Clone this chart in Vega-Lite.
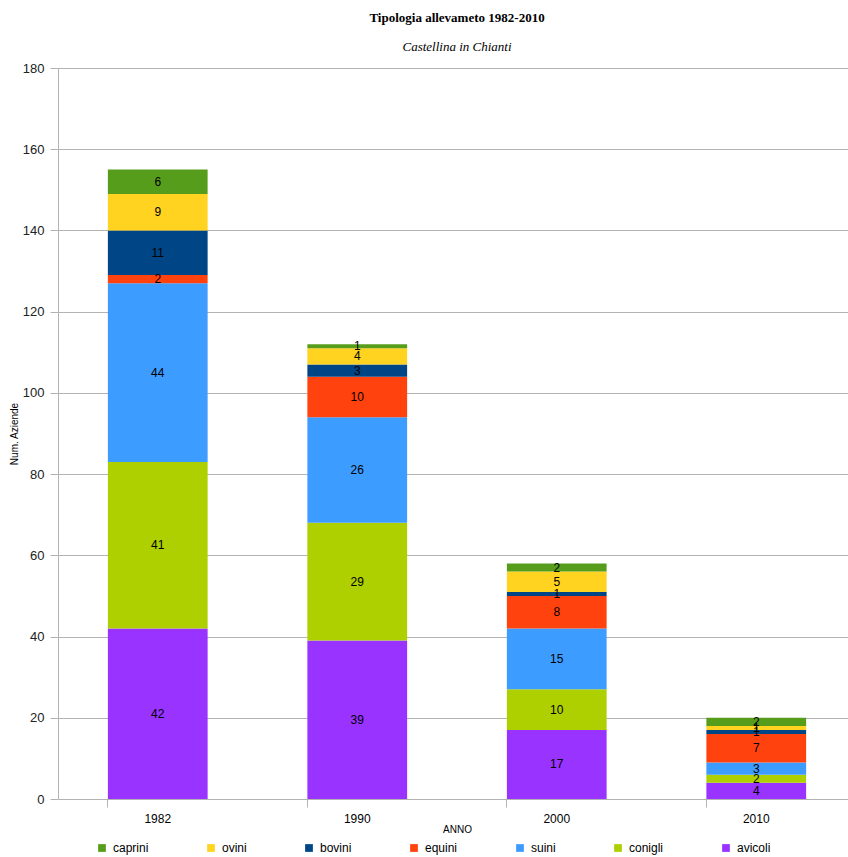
{
  "$schema": "https://vega.github.io/schema/vega-lite/v6.json",
  "autosize": {"type": "none"},
  "padding": {"left": 58, "top": 68, "right": 0, "bottom": 58},
  "width": 798,
  "height": 731,
  "background": "white",
  "title": {
    "text": "Tipologia allevameto 1982-2010",
    "subtitle": "Castellina in Chianti",
    "font": "Liberation Serif",
    "fontSize": 13,
    "fontWeight": "bold",
    "color": "#000000",
    "subtitleFont": "Liberation Serif",
    "subtitleFontSize": 13,
    "subtitleFontStyle": "italic",
    "subtitleColor": "#000000",
    "subtitlePadding": 16,
    "anchor": "middle",
    "offset": 8
  },
  "data": {
    "values": [
      {"anno": "1982", "tipo": "avicoli", "n": 42},
      {"anno": "1982", "tipo": "conigli", "n": 41},
      {"anno": "1982", "tipo": "suini", "n": 44},
      {"anno": "1982", "tipo": "equini", "n": 2},
      {"anno": "1982", "tipo": "bovini", "n": 11},
      {"anno": "1982", "tipo": "ovini", "n": 9},
      {"anno": "1982", "tipo": "caprini", "n": 6},
      {"anno": "1990", "tipo": "avicoli", "n": 39},
      {"anno": "1990", "tipo": "conigli", "n": 29},
      {"anno": "1990", "tipo": "suini", "n": 26},
      {"anno": "1990", "tipo": "equini", "n": 10},
      {"anno": "1990", "tipo": "bovini", "n": 3},
      {"anno": "1990", "tipo": "ovini", "n": 4},
      {"anno": "1990", "tipo": "caprini", "n": 1},
      {"anno": "2000", "tipo": "avicoli", "n": 17},
      {"anno": "2000", "tipo": "conigli", "n": 10},
      {"anno": "2000", "tipo": "suini", "n": 15},
      {"anno": "2000", "tipo": "equini", "n": 8},
      {"anno": "2000", "tipo": "bovini", "n": 1},
      {"anno": "2000", "tipo": "ovini", "n": 5},
      {"anno": "2000", "tipo": "caprini", "n": 2},
      {"anno": "2010", "tipo": "avicoli", "n": 4},
      {"anno": "2010", "tipo": "conigli", "n": 2},
      {"anno": "2010", "tipo": "suini", "n": 3},
      {"anno": "2010", "tipo": "equini", "n": 7},
      {"anno": "2010", "tipo": "bovini", "n": 1},
      {"anno": "2010", "tipo": "ovini", "n": 1},
      {"anno": "2010", "tipo": "caprini", "n": 2}
    ]
  },
  "transform": [
    {"calculate": "indexof(['avicoli','conigli','suini','equini','bovini','ovini','caprini'], datum.tipo)", "as": "rank"},
    {"stack": "n", "groupby": ["anno"], "sort": [{"field": "rank", "order": "ascending"}], "as": ["y0", "y1"]},
    {"calculate": "(datum.y0 + datum.y1) / 2", "as": "ymid"}
  ],
  "layer": [
    {
      "mark": {"type": "bar"},
      "encoding": {
        "x": {
          "field": "anno",
          "type": "nominal",
          "scale": {"paddingInner": 0.5, "paddingOuter": 0.25},
          "axis": {
            "orient": "bottom",
            "title": "ANNO",
            "labelAngle": 0,
            "labelFont": "Liberation Sans",
            "labelFontSize": 12,
            "labelFontWeight": "normal",
            "labelColor": "#000000",
            "labelPadding": 14,
            "ticks": false,
            "domain": false,
            "titleFont": "Liberation Sans",
            "titleFontSize": 10,
            "titleFontWeight": "normal",
            "titleColor": "#000000",
            "titlePadding": 0
          }
        },
        "y": {
          "field": "y0",
          "type": "quantitative",
          "scale": {"domain": [0, 180]},
          "axis": {
            "title": "Num. Aziende",
            "titleFont": "Liberation Sans",
            "titleFontSize": 10,
            "titleFontWeight": "normal",
            "titleColor": "#000000",
            "titlePadding": 3,
            "values": [0, 20, 40, 60, 80, 100, 120, 140, 160, 180],
            "labelFont": "Liberation Sans",
            "labelFontSize": 13,
            "labelColor": "#222222",
            "labelPadding": 6,
            "tickSize": 8,
            "tickColor": "#b3b3b3",
            "domainColor": "#b3b3b3",
            "gridColor": "#b3b3b3",
            "grid": true
          }
        },
        "y2": {"field": "y1"},
        "color": {
          "field": "tipo",
          "type": "nominal",
          "scale": {
            "domain": ["caprini", "ovini", "bovini", "equini", "suini", "conigli", "avicoli"],
            "range": ["#579d1c", "#ffd320", "#004586", "#ff420e", "#3d9cff", "#aecf00", "#9933ff"]
          },
          "legend": {
            "title": null,
            "orient": "none",
            "direction": "horizontal",
            "columns": 7,
            "legendX": 38,
            "legendY": 774,
            "symbolType": "square",
            "symbolSize": 60,
            "symbolStrokeWidth": 0,
            "labelFont": "Liberation Sans",
            "labelFontSize": 12,
            "labelColor": "#000000",
            "labelOffset": 5,
            "columnPadding": 56
          }
        }
      }
    },
    {
      "mark": {"type": "text", "font": "Liberation Sans", "fontSize": 12, "color": "#000000", "baseline": "middle"},
      "encoding": {
        "x": {"field": "anno", "type": "nominal", "axis": null},
        "y": {"field": "ymid", "type": "quantitative"},
        "text": {"field": "n", "type": "quantitative"}
      }
    },
    {
      "mark": {"type": "tick", "opacity": 0},
      "encoding": {
        "x": {
          "field": "anno",
          "type": "nominal",
          "axis": {
            "title": null,
            "orient": "bottom",
            "labels": false,
            "bandPosition": 0,
            "ticks": true,
            "tickSize": 8,
            "tickColor": "#b3b3b3",
            "domain": false,
            "grid": false
          }
        }
      }
    }
  ],
  "resolve": {"axis": {"x": "independent"}},
  "config": {
    "view": {"stroke": null},
    "axis": {"gridWidth": 1}
  }
}
